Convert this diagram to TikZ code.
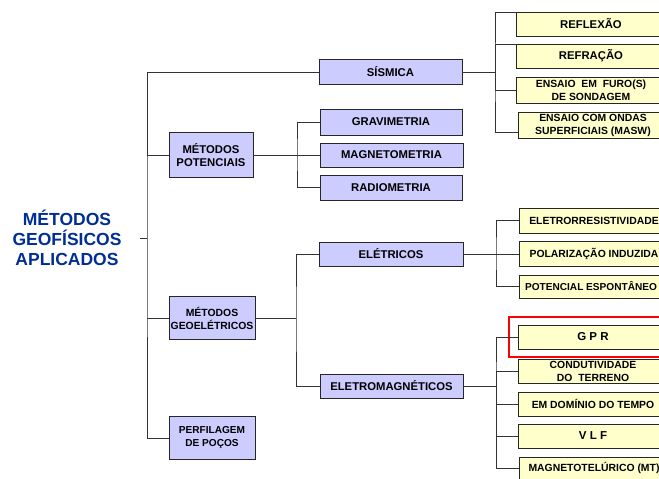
\documentclass[tikz,border=0pt]{standalone}
\usepackage{fontspec}
\setmainfont{Liberation Sans}
\usetikzlibrary{fit}
\definecolor{lilas}{RGB}{204,204,255}
\definecolor{amarelo}{RGB}{255,255,204}
\definecolor{azulescuro}{RGB}{0,45,150}
\newcommand{\fonte}[1]{\fontsize{#1}{13}\selectfont\bfseries}

\begin{document}
\begin{tikzpicture}[x=1pt,y=-1pt,
  caixa/.style={draw=black!85,line width=0.9pt,inner sep=0pt,align=center},
  metodo/.style={caixa,fill=lilas,font=\fonte{11.3}},
  ensaio/.style={caixa,fill=amarelo,minimum width=150pt,minimum height=24pt,font=\fonte{10.4}},
  ramo/.style={draw=black!80,line width=0.8pt},
  destaque/.style={draw=red,line width=2pt}]
\useasboundingbox (0,0) rectangle (659,479);
\clip (0,0) rectangle (659,479);
% raiz
\node[text width=146pt,inner sep=0pt,align=center,text=azulescuro,
  font=\fontsize{17.5}{20}\selectfont\bfseries] (raiz) at (67,238)
  {MÉTODOS\\GEOFÍSICOS\\APLICADOS};
\coordinate (tronco) at (147,238);
%
% primeiro nivel
\node[metodo,minimum width=143pt,minimum height=25pt] (sis) at (390.5,72) {SÍSMICA};
\node[metodo,minimum width=84pt,minimum height=45pt,font=\fonte{11.3}] (pot) at (211,155) {MÉTODOS\\POTENCIAIS};
\node[metodo,minimum width=86pt,minimum height=43pt,font=\fonte{10.4}] (geo) at (212,318) {MÉTODOS\\GEOELÉTRICOS};
\node[metodo,minimum width=86pt,minimum height=43pt,font=\fonte{10.1}] (perf) at (212,438) {PERFILAGEM\\DE POÇOS};
%
% segundo nivel
\node[metodo,minimum width=142pt,minimum height=26pt] (grav) at (391,122) {GRAVIMETRIA};
\node[metodo,minimum width=143pt,minimum height=24pt] (mag) at (391.5,155) {MAGNETOMETRIA};
\node[metodo,minimum width=142pt,minimum height=25pt] (rad) at (391,187.5) {RADIOMETRIA};
\node[metodo,minimum width=144pt,minimum height=24pt] (ele) at (391,254) {ELÉTRICOS};
\node[metodo,minimum width=143pt,minimum height=24pt] (elm) at (391.5,386) {ELETROMAGNÉTICOS};
\coordinate (jpot) at (297,155);
\coordinate (jgeo) at (296,318);
%
% sismica
\node[ensaio,font=\fonte{11.3}] (refl) at (591,24) {REFLEXÃO};
\node[ensaio,font=\fonte{11.3}] (refr) at (591,56) {REFRAÇÃO};
\node[ensaio,minimum height=26pt] (furo) at (591,90) {ENSAIO\ \ EM\ \ FURO(S)\\DE SONDAGEM};
\node[ensaio,minimum height=26pt] (masw) at (593,125) {ENSAIO COM ONDAS\\SUPERFICIAIS (MASW)};
\coordinate (jsis) at (495,72);
%
% eletricos
\node[ensaio,minimum height=25pt] (eltr) at (594,220.5) {ELETRORRESISTIVIDADE};
\node[ensaio,minimum height=25pt] (pol) at (594,254) {POLARIZAÇÃO INDUZIDA};
\node[ensaio,minimum width=144pt,minimum height=23pt,font=\fonte{10.1}] (potesp) at (591,286.5) {POTENCIAL ESPONTÂNEO};
\coordinate (jele) at (496,254);
%
% eletromagneticos
\node[ensaio,font=\fonte{11.5}] (gpr) at (593,337) {G P R};
\node[ensaio] (cond) at (593,371) {CONDUTIVIDADE\\DO\ \ TERRENO};
\node[ensaio] (tempo) at (593,404) {EM DOMÍNIO DO TEMPO};
\node[ensaio,font=\fonte{11.5}] (vlf) at (593,436) {V L F};
\node[ensaio,minimum height=22pt] (mt) at (594,468) {MAGNETOTELÚRICO (MT)};
\coordinate (jelm) at (496,386);
\node[destaque,fit=(gpr),inner xsep=9pt,inner ysep=8pt] (realce) {};
%
% ligacoes
\draw[ramo] (raiz.east) -- (tronco);
\draw[ramo] (sis.west) -| (tronco) |- (perf.west);
\draw[ramo] (pot.west) -- (pot.west -| tronco);
\draw[ramo] (geo.west) -- (geo.west -| tronco);
%
\draw[ramo] (pot.east) -- (pot.east -| mag.west);
\draw[ramo] (grav.west) -| (jpot) |- (rad.west);
\draw[ramo] (geo.east) -- (jgeo);
\draw[ramo] (ele.west) -| (jgeo) |- (elm.west);
%
\draw[ramo] (sis.east) -- (jsis);
\draw[ramo] ([yshift=-1pt]refl.north west) -| (jsis) |- ([yshift=6pt]masw.south west);
\draw[ramo] ([yshift=-1pt]refr.north west) -| (jsis);
\draw[ramo] (furo.west) -| (jsis);
%
\draw[ramo] (ele.east) -- (ele.east -| pol.west);
\draw[ramo] (eltr.west) -| (jele) |- (potesp.west);
%
\draw[ramo] (elm.east) -- (jelm);
\draw[ramo] (gpr.west) -| (jelm) |- (mt.west);
\foreach \n in {cond,tempo,vlf}
  \draw[ramo] (\n.west) -| (jelm);
\end{tikzpicture}
\end{document}
